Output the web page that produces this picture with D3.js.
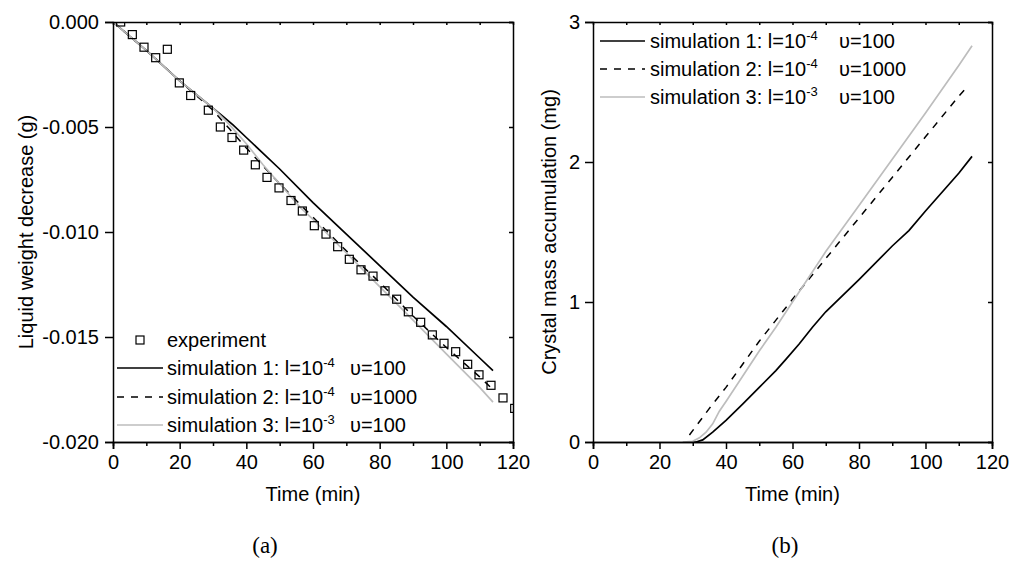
<!DOCTYPE html>
<html>
<head>
<meta charset="utf-8">
<script src="https://cdn.jsdelivr.net/npm/d3@7"></script>
<style>
  body { margin: 0; background: #fff; }
  svg { display: block; }
  text { font-family: "Liberation Sans", Arial, sans-serif; fill: #000; }
</style>
</head>
<body>
<svg id="fig" width="1013" height="570"></svg>
<script>
// ---- data ----
// (a) liquid weight decrease (g)
var expTime = [2.3, 5.8, 9.3, 12.8, 16.3, 19.9, 23.3, 28.6, 32.2, 35.7, 39.2, 42.7, 46.2, 49.8,
  53.4, 56.8, 60.4, 63.9, 67.4, 70.9, 74.4, 78.0, 81.6, 85.1, 88.6, 92.3, 95.8, 99.3, 102.8,
  106.4, 109.8, 113.4, 117.0, 120.5];
var expWeight = [0.0000, -0.0006, -0.0012, -0.0017, -0.0013, -0.0029, -0.0035, -0.0042, -0.0050,
  -0.0055, -0.0061, -0.0068, -0.0074, -0.0079, -0.0085, -0.0090, -0.0097, -0.0101, -0.0107,
  -0.0113, -0.0118, -0.0121, -0.0128, -0.0132, -0.0138, -0.0143, -0.0149, -0.0153, -0.0157,
  -0.0163, -0.0168, -0.0173, -0.0179, -0.0184];

var sim1TimeA = [0, 10, 20, 30, 33, 36, 40, 50, 60, 70, 80, 90, 100, 110, 114];
var sim1WeightA = [0, -0.00135, -0.0028, -0.0041, -0.0045, -0.0049, -0.0055, -0.0070, -0.0086,
  -0.0101, -0.0116, -0.0131, -0.0145, -0.0160, -0.0166];
var sim2TimeA = [0, 10, 20, 30, 35, 40, 50, 60, 70, 80, 90, 100, 110, 114];
var sim2WeightA = [0, -0.00135, -0.0028, -0.0042, -0.0051, -0.0060, -0.0077, -0.0093, -0.0109,
  -0.0124, -0.0140, -0.0155, -0.0169, -0.0175];
var sim3TimeA = [0, 10, 20, 30, 35, 40, 45, 50, 56, 60, 70, 80, 90, 100, 110, 114];
var sim3WeightA = [0, -0.00135, -0.0028, -0.0041, -0.0049, -0.0058, -0.0068, -0.0077, -0.0088,
  -0.0094, -0.0110, -0.0126, -0.0142, -0.0158, -0.0174, -0.0181];

// (b) crystal mass accumulation (mg)
var sim1TimeB = [28, 31, 33, 36, 40, 45, 50, 55, 58, 62, 66, 70, 80, 90, 95, 100, 110, 114];
var sim1MassB = [0, 0, 0.015, 0.07, 0.155, 0.27, 0.39, 0.51, 0.59, 0.70, 0.82, 0.93, 1.16, 1.40,
  1.51, 1.65, 1.92, 2.04];
var sim2TimeB = [29, 35, 40, 50, 57, 60, 70, 80, 90, 100, 110, 113];
var sim2MassB = [0.05, 0.24, 0.39, 0.72, 0.93, 1.02, 1.31, 1.60, 1.89, 2.18, 2.47, 2.55];
var sim3TimeB = [27, 30, 32, 34, 36, 38, 40, 45, 50, 55, 60, 70, 80, 90, 100, 110, 114];
var sim3MassB = [0, 0.005, 0.03, 0.07, 0.13, 0.22, 0.29, 0.47, 0.65, 0.82, 1.00, 1.36, 1.69, 2.02,
  2.35, 2.69, 2.83];

var xTicks = [0, 20, 40, 60, 80, 100, 120];
var xMinorTicks = [10, 30, 50, 70, 90, 110];
var xAllTicks = [10, 20, 30, 40, 50, 60, 70, 80, 90, 100, 110];
var yTicksA = [0, -0.005, -0.010, -0.015, -0.020];
var yTicksB = [0, 1, 2, 3];

var simNames = ['simulation 1: l=10', 'simulation 2: l=10', 'simulation 3: l=10'];
var simExps = ['-4', '-4', '-3'];
var simNus = ['\u03c5=100', '\u03c5=1000', '\u03c5=100'];

var styles = [
  { stroke: '#000', width: 1.7, dash: null },
  { stroke: '#000', width: 1.5, dash: '7,7' },
  { stroke: '#bdbdbd', width: 1.7, dash: null }
];

var svg = d3.select('#fig');

function zip(xs, ys) { return xs.map(function(x, i) { return [x, ys[i]]; }); }

function drawPanel(p) {
  var x = d3.scaleLinear().domain([0, 120]).range([p.left, p.right]);
  var y = d3.scaleLinear().domain(p.yDomain).range([p.bottom, p.top]);
  var g = svg.append('g');

  g.append('clipPath').attr('id', p.id + 'clip')
    .append('rect')
    .attr('x', p.left).attr('y', p.top)
    .attr('width', p.right - p.left).attr('height', p.bottom - p.top);

  var plot = g.append('g').attr('clip-path', 'url(#' + p.id + 'clip)');
  var line = d3.line().x(function(d) { return x(d[0]); }).y(function(d) { return y(d[1]); });

  p.series.forEach(function(s, i) {
    var st = styles[i];
    plot.append('path')
      .datum(s)
      .attr('d', line)
      .attr('fill', 'none')
      .attr('stroke', st.stroke)
      .attr('stroke-width', st.width)
      .attr('stroke-dasharray', st.dash);
  });

  if (p.points) {
    plot.selectAll('rect.pt')
      .data(p.points)
      .enter().append('rect')
      .attr('class', 'pt')
      .attr('x', function(d) { return x(d[0]) - 4; })
      .attr('y', function(d) { return y(d[1]) - 4; })
      .attr('width', 8).attr('height', 8)
      .attr('fill', 'none')
      .attr('stroke', '#000')
      .attr('stroke-width', 1.2);
  }

  // axes
  g.append('g').attr('transform', 'translate(0,' + p.bottom + ')')
    .call(d3.axisBottom(x).tickValues(xTicks).tickSize(7).tickPadding(6));
  g.append('g').attr('transform', 'translate(0,' + p.bottom + ')')
    .call(d3.axisBottom(x).tickValues(xMinorTicks).tickSize(4).tickFormat(''));
  g.append('g').attr('transform', 'translate(0,' + p.top + ')')
    .call(d3.axisTop(x).tickValues(xAllTicks).tickSize(-3).tickFormat(''));
  g.append('g').attr('transform', 'translate(' + p.left + ',0)')
    .call(d3.axisLeft(y).tickValues(p.yTicks).tickSize(8).tickPadding(p.yPad).tickFormat(p.yFormat));
  g.append('g').attr('transform', 'translate(' + p.right + ',0)')
    .call(d3.axisRight(y).tickValues(p.yTicks).tickSize(-4).tickFormat(''));

  g.selectAll('.domain, .tick line').attr('stroke', '#000').attr('stroke-width', 1.5);
  g.selectAll('.tick text').style('font-size', '20px');
  g.selectAll('g').attr('font-family', null).attr('font-size', null);

  // axis titles
  g.append('text')
    .attr('x', (p.left + p.right) / 2)
    .attr('y', 501)
    .attr('text-anchor', 'middle')
    .style('font-size', '20px')
    .text('Time (min)');
  g.append('text')
    .attr('transform', 'translate(' + p.yLabelX + ',' + ((p.top + p.bottom) / 2) + ') rotate(-90)')
    .attr('text-anchor', 'middle')
    .style('font-size', '20px')
    .text(p.yLabel);

  // caption
  g.append('text')
    .attr('x', p.captionX)
    .attr('y', 553)
    .attr('text-anchor', 'middle')
    .style('font-family', '"Liberation Serif", "DejaVu Serif", serif')
    .style('font-size', '23px')
    .text(p.caption);

  // legend
  var lg = g.append('g');
  var rows = p.legendRows;
  var r = 0;
  if (p.points) {
    lg.append('rect')
      .attr('x', (p.lgX0 + p.lgX1) / 2 - 4).attr('y', rows[0] - 4)
      .attr('width', 8).attr('height', 8)
      .attr('fill', 'none').attr('stroke', '#000').attr('stroke-width', 1.2);
    lg.append('text').attr('x', p.lgText).attr('y', rows[0] + 7)
      .style('font-size', '20px').text('experiment');
    r = 1;
  }
  simNames.forEach(function(name, i) {
    var cy = rows[r + i];
    var st = styles[i];
    lg.append('line')
      .attr('x1', p.lgX0).attr('x2', p.lgX1)
      .attr('y1', cy).attr('y2', cy)
      .attr('stroke', st.stroke).attr('stroke-width', st.width)
      .attr('stroke-dasharray', st.dash);
    var t = lg.append('text').attr('x', p.lgText).attr('y', cy + 7).style('font-size', '20px');
    t.append('tspan').text(name);
    t.append('tspan').attr('dy', -8).style('font-size', '13px').text(simExps[i]);
    t.append('tspan').attr('x', p.lgText + p.nuOffset).attr('dy', 8).text(simNus[i]);
  });
}

drawPanel({
  id: 'a', left: 113, right: 513, top: 22, bottom: 442,
  yDomain: [-0.02, 0], yTicks: yTicksA, yPad: 6,
  yFormat: function(d) { return d3.format('.3f')(d).replace('\u2212', '-'); },
  yLabel: 'Liquid weight decrease (g)', yLabelX: 33,
  caption: '(a)', captionX: 265,
  series: [zip(sim1TimeA, sim1WeightA), zip(sim2TimeA, sim2WeightA), zip(sim3TimeA, sim3WeightA)],
  points: zip(expTime, expWeight),
  legendRows: [340, 368, 397, 425], lgX0: 117, lgX1: 163, lgText: 167, nuOffset: 183
});

drawPanel({
  id: 'b', left: 593, right: 992, top: 22, bottom: 442,
  yDomain: [0, 3], yTicks: yTicksB, yPad: 5,
  yFormat: d3.format('d'),
  yLabel: 'Crystal mass accumulation (mg)', yLabelX: 556,
  caption: '(b)', captionX: 785,
  series: [zip(sim1TimeB, sim1MassB), zip(sim2TimeB, sim2MassB), zip(sim3TimeB, sim3MassB)],
  points: null,
  legendRows: [41, 69, 97], lgX0: 600, lgX1: 645, lgText: 650, nuOffset: 189
});
</script>
</body>
</html>
